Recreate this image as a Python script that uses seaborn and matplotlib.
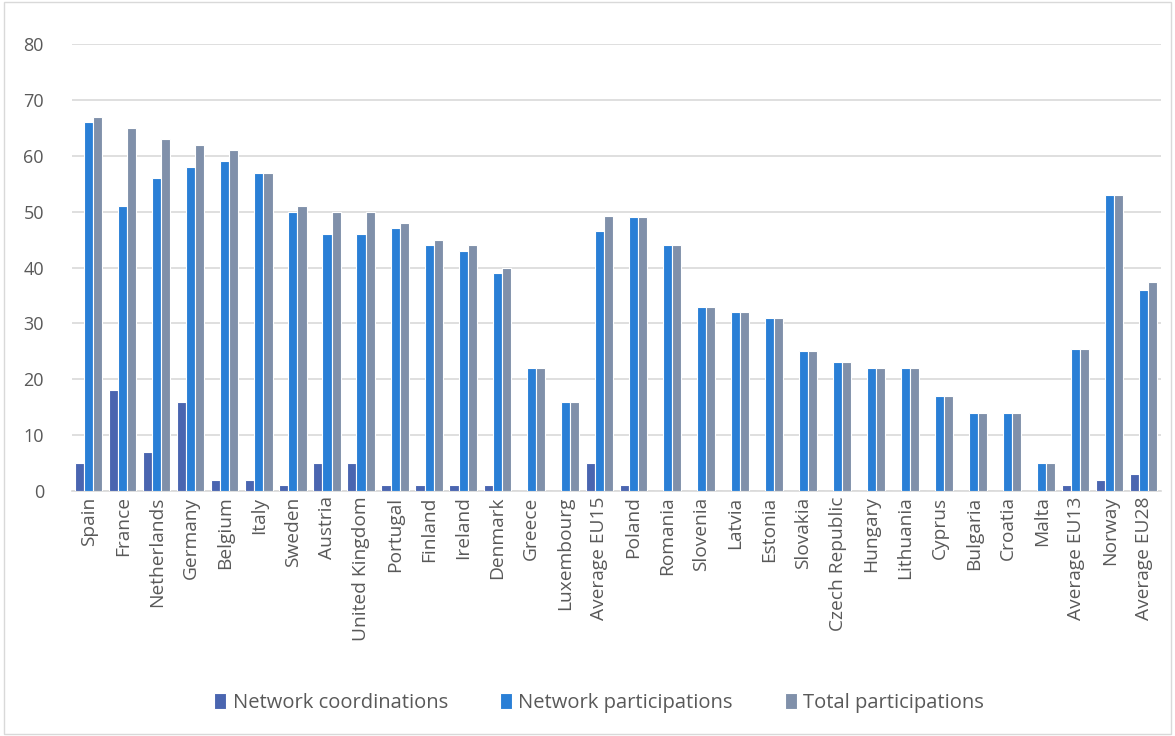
import pandas as pd
import matplotlib.pyplot as plt
import seaborn as sns
from matplotlib.patches import Rectangle

countries = ["Spain", "France", "Netherlands", "Germany", "Belgium", "Italy", "Sweden",
             "Austria", "United Kingdom", "Portugal", "Finland", "Ireland", "Denmark",
             "Greece", "Luxembourg", "Average EU15", "Poland", "Romania", "Slovenia",
             "Latvia", "Estonia", "Slovakia", "Czech Republic", "Hungary", "Lithuania",
             "Cyprus", "Bulgaria", "Croatia", "Malta", "Average EU13", "Norway",
             "Average EU28"]
coordinations = [5, 18, 7, 16, 2, 2, 1, 5, 5, 1, 1, 1, 1, 0, 0, 5, 1, 0, 0, 0, 0, 0,
                 0, 0, 0, 0, 0, 0, 0, 1, 2, 3]
participations = [66, 51, 56, 58, 59, 57, 50, 46, 46, 47, 44, 43, 39, 22, 16, 46.6, 49,
                  44, 33, 32, 31, 25, 23, 22, 22, 17, 14, 14, 5, 25.4, 53, 36]
total = [67, 65, 63, 62, 61, 57, 51, 50, 50, 48, 45, 44, 40, 22, 16, 49.3, 49, 44, 33,
         32, 31, 25, 23, 22, 22, 17, 14, 14, 5, 25.4, 53, 37.4]
series = ["Network coordinations", "Network participations", "Total participations"]
colors = ["#4A65B0", "#2A7FD6", "#8090AA"]

df = pd.DataFrame({"Country": countries * 3,
                   "Series": [series[0]] * len(countries) + [series[1]] * len(countries)
                   + [series[2]] * len(countries),
                   "Value": coordinations + participations + total})

sns.set_style("white")
plt.rcParams["font.family"] = ["Open Sans", "DejaVu Sans"]
text_color = "#595959"

fig = plt.figure(figsize=(11.75, 7.36), dpi=100)
ax = fig.add_axes([0.061, 0.333, 0.927, 0.607])

sns.barplot(data=df, x="Country", y="Value", hue="Series", palette=colors,
            saturation=1, width=0.8, edgecolor="white", linewidth=0.8, ax=ax, zorder=3)

ax.set_ylim(0, 80)
ax.set_yticks(range(0, 81, 10))
ax.set_xlim(-0.5, len(countries) - 0.5)
ax.grid(axis="y", color="#D9D9D9", linewidth=1.2, zorder=0)
ax.set_axisbelow(True)
for s in ["top", "right", "left"]:
    ax.spines[s].set_visible(False)
ax.spines["bottom"].set_color("#D9D9D9")
ax.spines["bottom"].set_linewidth(1.2)
ax.set_xlabel("")
ax.set_ylabel("")
ax.tick_params(axis="both", length=0, colors=text_color, labelsize=13)
ax.tick_params(axis="x", rotation=90, pad=4, labelsize=13.8)
ax.tick_params(axis="y", pad=20)

handles, labels = ax.get_legend_handles_labels()
ax.legend(handles, labels, loc="center", bbox_to_anchor=(0.51, 0.045),
          bbox_transform=fig.transFigure, ncol=3, frameon=False, fontsize=14.5,
          handlelength=0.6, handleheight=0.8, handletextpad=0.3, columnspacing=2.6,
          labelcolor=text_color)

fig.patches.append(Rectangle((0.003, 0.003), 0.994, 0.994, transform=fig.transFigure,
                             fill=False, edgecolor="#D9D9D9", linewidth=1))

fig.savefig("out.png", dpi=100, facecolor="white")
